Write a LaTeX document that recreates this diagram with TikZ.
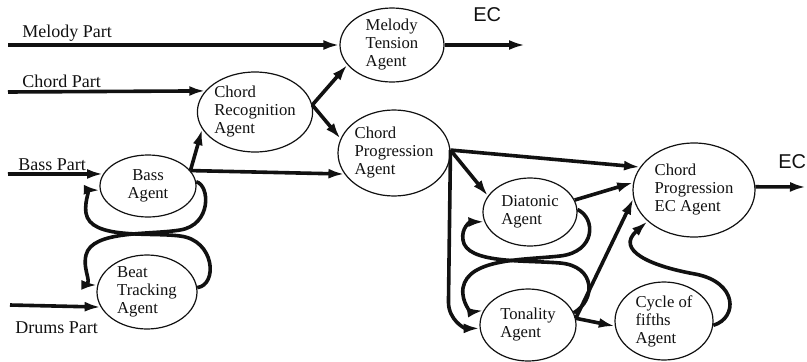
\documentclass[tikz,border=0pt]{standalone}
\usepackage{fontspec}
\setmainfont{Liberation Serif}
\newfontfamily\ecfont{Liberation Sans}
\usepackage{tikz}
\usetikzlibrary{arrows.meta,shapes.geometric}
\definecolor{ink}{HTML}{111111}

\begin{document}
\begin{tikzpicture}[x=0.75pt,y=-0.75pt,
  agent/.style 2 args={ellipse,draw=ink,line width=0.9pt,inner sep=0pt,align=left,text=ink,
    font=\fontsize{12.5}{13.5}\selectfont,minimum width=1.5*#1pt,minimum height=1.5*#2pt},
  flow/.style={draw=ink,line width=2.7pt,-{Latex[length=12pt,width=7.5pt]}},
  partlabel/.style={anchor=base west,inner sep=0pt,text=ink,font=\fontsize{13.5}{16}\selectfont},
  eclabel/.style={anchor=west,inner sep=0pt,text=ink,font=\ecfont\fontsize{15}{18}\selectfont}]
\useasboundingbox (0,0) rectangle (807,361);
% agents
\node[agent={52}{37}] (mel) at (392,45) {Melody\\Tension\\Agent};
\node[agent={57}{40}] (rec) at (255,112) {Chord\\Recognition\\Agent};
\node[agent={56}{43}] (prog) at (394,153) {Chord\\Progression\\Agent};
\node[agent={48}{31},align=center] (bass) at (148,186) {Bass\\Agent};
\node[agent={50}{37}] (beat) at (147,292) {Beat\\Tracking\\Agent};
\node[agent={47}{34}] (dia) at (530,212) {Diatonic\\Agent};
\node[agent={48}{36}] (ton) at (528,325) {Tonality\\Agent};
\node[agent={61}{47}] (ecag) at (694,190) {Chord\\Progression\\EC Agent};
\node[agent={49}{39}] (fifth) at (664,321) {Cycle of\\fifths\\Agent};
% input parts
\foreach \id/\xx/\yy/\lx/\ly/\txt/\tgt in {melody/8/45/22/37/Melody Part/mel.west,
    chord/8/92/22/87/Chord Part/rec.157, bass/8/174/18/170/Bass Part/bass.165,
    drums/10/305/15/333/Drums Part/beat.198} {
  \coordinate (\id-in) at (\xx,\yy);
  \node[partlabel] (\id-lab) at (\lx,\ly) {\txt};
  \draw[flow] (\id-in) -- (\tgt);
}
% outputs
\coordinate (mel-out) at (525,45);
\coordinate (ecag-out) at (806,187);
\node[eclabel] (ec-mel) at (473,15) {EC};
\node[eclabel] (ec-ecag) at (778,162) {EC};
\draw[flow] (mel.east) -- (mel-out);
\draw[flow] (ecag.3) -- (ecag-out);
% chord recognition and progression
\draw[flow] (bass.20) -- (rec.198);
\draw[flow] (bass.20) -- (prog.203);
\draw[flow] (rec.7) -- (mel.204);
\draw[flow] (rec.7) -- (prog.165);
\draw[flow] (prog.3) -- (ecag.157);
\draw[flow] (prog.3) -- (dia.159);
\draw[flow] (prog.3) -- ++(-2,152) .. controls +(0,18) and +(-15,0) .. (ton.184);
\draw[flow] (dia.15) -- (ecag.173);
\draw[flow] (ton.8) -- (ecag.188);
\draw[flow] (ton.8) -- (fifth.186);
\draw[flow] (fifth.-5) .. controls (738,318) and (738,282) .. (695,274)
  .. controls (650,266) and (615,250) .. (ecag.214);
% figure-eight loops
\draw[flow] (bass.5) .. controls (210,185) and (212,225) .. (180,230)
  .. controls (150,235) and (92,230) .. (86,255) .. controls (82,272) and (95,285) .. (beat.172);
\draw[flow] (beat.5) .. controls (218,285) and (215,240) .. (180,236)
  .. controls (150,232) and (90,240) .. (86,213) .. controls (84,198) and (92,190) .. (bass.185);
\draw[flow] (dia.3) .. controls (596,218) and (596,252) .. (560,256)
  .. controls (525,260) and (468,258) .. (463,288) .. controls (461,303) and (472,312) .. (ton.162);
\draw[flow] (ton.15) .. controls (596,300) and (596,266) .. (560,263)
  .. controls (525,260) and (466,264) .. (463,240) .. controls (461,228) and (470,222) .. (dia.192);
\end{tikzpicture}
\end{document}
